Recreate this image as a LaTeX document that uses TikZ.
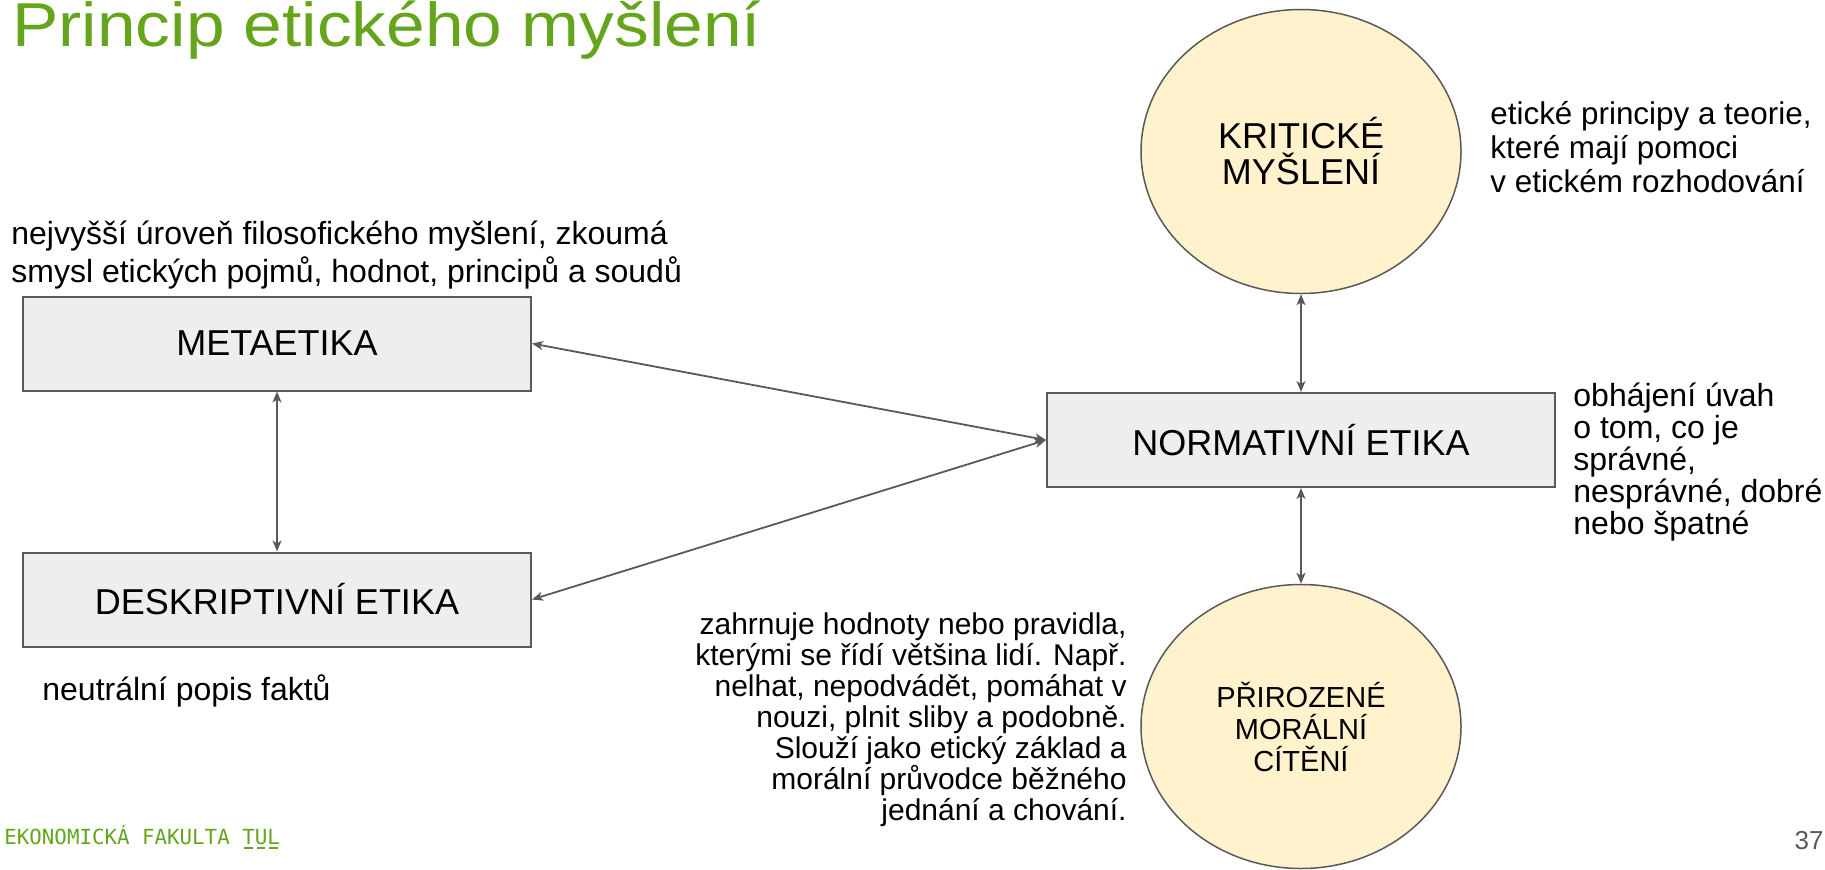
\documentclass[tikz,border=0pt]{standalone}
\usepackage{fontspec}
\setmainfont{Liberation Sans}
\newfontfamily\titlefont[FakeStretch=1.12]{Liberation Sans}
\newfontfamily\tulfont{DejaVu Sans Mono}
\usetikzlibrary{shapes.geometric, arrows.meta, positioning}
\definecolor{tulgreen}{RGB}{101, 165, 28}
\definecolor{boxgray}{RGB}{238, 238, 238}
\definecolor{linegray}{RGB}{89, 89, 89}
\definecolor{paleyellow}{RGB}{255, 242, 204}
\newcommand{\tulbar}[1]{\makebox[0pt][l]{\hspace{0.9pt}\rule[-2.6pt]{4.4pt}{0.9pt}}#1}

\begin{document}
\begin{tikzpicture}[x=0.5pt, y=-0.5pt,
  box/.style={draw=linegray, fill=boxgray, line width=1pt, minimum width=254pt, minimum height=47pt, inner sep=0pt, font=\fontsize{18pt}{21pt}\selectfont},
  circ/.style={ellipse, draw=linegray, fill=paleyellow, line width=0.75pt, minimum width=160pt, minimum height=142pt, inner sep=0pt, align=center},
  note/.style={inner sep=0pt, font=\fontsize{16pt}{19pt}\selectfont},
  arr/.style={{Stealth[length=5.5pt, width=4.5pt, inset=1.5pt]}-{Stealth[length=5.5pt, width=4.5pt, inset=1.5pt]}, draw=linegray, line width=0.9pt}
]
  \useasboundingbox (0,0) rectangle (1825,869);

  % title and footer
  \node[anchor=base west, inner sep=0pt, text=tulgreen, font=\titlefont\fontsize{31pt}{38pt}\selectfont] (title) at (12,46) {Princip etického myšlení};
  \node[anchor=base west, inner sep=0pt, text=tulgreen, font=\tulfont\fontsize{10.4pt}{12pt}\selectfont] (footer) at (4,844) {EKONOMICKÁ FAKULTA \tulbar{T}\tulbar{U}\tulbar{L}};
  \node[anchor=base east, inner sep=0pt, text=linegray, font=\fontsize{13pt}{15pt}\selectfont] (pagenum) at (1824,849) {37};

  % levels
  \node[box] (meta) at (277,343.5) {METAETIKA};
  \node[box] (desk) at (277,599.5) {DESKRIPTIVNÍ ETIKA};
  \node[box] (norm) at (1301,440) {NORMATIVNÍ ETIKA};
  \node[circ, font=\fontsize{18pt}{18pt}\selectfont] (krit) at (1301,151.5) {KRITICKÉ\\MYŠLENÍ};
  \node[circ, font=\fontsize{14.5pt}{16pt}\selectfont] (prir) at (1301,726.5) {PŘIROZENÉ\\MORÁLNÍ\\CÍTĚNÍ};

  \draw[arr] (meta.east) -- (norm.west);
  \draw[arr] (desk.east) -- (norm.west);
  \draw[arr] (meta.south) -- (desk.north);
  \draw[arr] (krit.south) -- (norm.north);
  \draw[arr] (norm.south) -- (prir.north);

  % notes (anchored at the last line)
  \node[note, anchor=base west, align=left] (metanote) at (11,282) {nejvyšší úroveň filosofického myšlení, zkoumá\\smysl etických pojmů, hodnot, principů a soudů};
  \node[note, anchor=base west] (desknote) at (42,700) {neutrální popis faktů};
  \node[note, anchor=base west, align=left, font=\fontsize{16pt}{16pt}\selectfont] (normnote) at (1573,534) {obhájení úvah\\o tom, co je\\správné,\\nesprávné, dobré\\nebo špatné};
  \node[note, anchor=base west, align=left, font=\fontsize{15.7pt}{17pt}\selectfont] (kritnote) at (1490,192) {etické principy a teorie,\\které mají pomoci\\v etickém rozhodování};
  \node[note, anchor=base east, align=right, font=\fontsize{15pt}{15.5pt}\selectfont] (prirnote) at (1127,820) {zahrnuje hodnoty nebo pravidla,\\kterými se řídí většina lidí. Např.\\nelhat, nepodvádět, pomáhat v\\nouzi, plnit sliby a podobně.\\Slouží jako etický základ a\\morální průvodce běžného\\jednání a chování.};
\end{tikzpicture}
\end{document}
